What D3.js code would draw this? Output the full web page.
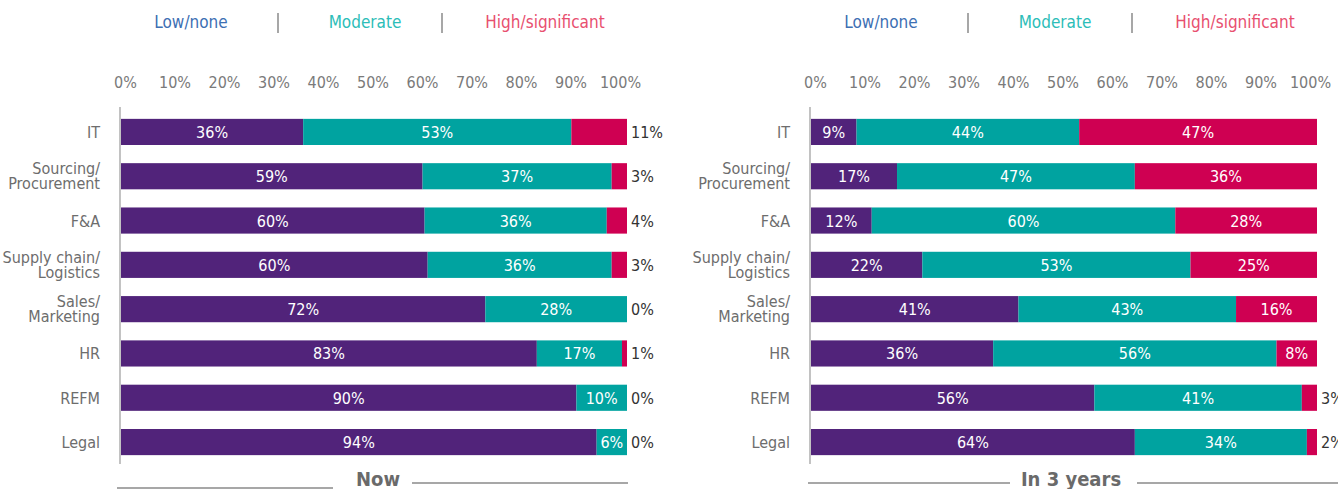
<!DOCTYPE html>
<html>
<head>
<meta charset="utf-8">
<script src="https://cdn.jsdelivr.net/npm/d3@7"></script>
<style>
  body { margin: 0; background: #fff; }
  text { font-family: "Liberation Sans Narrow", "DejaVu Sans Condensed", "Roboto", sans-serif; }
</style>
</head>
<body>
<div id="chart"></div>
<script>
var categories = ["IT", "Sourcing/|Procurement", "F&A", "Supply chain/|Logistics",
                  "Sales/|Marketing", "HR", "REFM", "Legal"];
var legendLabels = ["Low/none", "Moderate", "High/significant"];
var tickValues = [0, 10, 20, 30, 40, 50, 60, 70, 80, 90, 100];

var nowLow      = [36, 59, 60, 60, 72, 83, 90, 94];
var nowModerate = [53, 37, 36, 36, 28, 17, 10, 6];
var nowHigh     = [11, 3, 4, 3, 0, 1, 0, 0];

var laterLow      = [9, 17, 12, 22, 41, 36, 56, 64];
var laterModerate = [44, 47, 60, 53, 43, 56, 41, 34];
var laterHigh     = [47, 36, 28, 25, 16, 8, 3, 2];

var barColors = ["#51237a", "#00a3a0", "#cf0052"];
var legendColors = ["#3d6fb3", "#2cbdb8", "#e8506f"];

var width = 1338, height = 489;

var svg = d3.select("#chart")
  .append("svg")
    .attr("width", width)
    .attr("height", height);

// panels: the "high" label goes outside the bar when below outsideBelow
var panels = [
  {title: "Now", x0: 120, low: nowLow, mod: nowModerate, high: nowHigh, outsideBelow: 101,
   lineL: [-3, 213, 368], lineR: [292, 508, 363], titleX: 258},
  {title: "In 3 years", x0: 810, low: laterLow, mod: laterModerate, high: laterHigh, outsideBelow: 5,
   lineL: [-2, 200, 363], lineR: [327, 528, 363], titleX: 261}
];

var x = d3.scaleLinear().domain([0, 100]).range([1, 507]);
var xTick = d3.scaleLinear().domain([0, 100]).range([5, 500]);
var y = d3.scaleBand()
    .domain(d3.range(categories.length))
    .range([110, 464])
    .paddingInner(0.41)
    .paddingOuter(0.2);

panels.forEach(function(p) {
  var g = svg.append("g")
    .attr("transform", "translate(" + p.x0 + ",0)");

  // legend
  var legendX = [71, 245, 425];
  legendLabels.forEach(function(l, i) {
    g.append("text")
      .attr("x", legendX[i])
      .attr("y", 28)
      .attr("text-anchor", "middle")
      .style("font-size", "17px")
      .style("fill", legendColors[i])
      .text(l);
  });
  [158, 322].forEach(function(sx) {
    g.append("line")
      .attr("x1", sx).attr("x2", sx)
      .attr("y1", 13).attr("y2", 33)
      .attr("stroke", "#8a8a8a")
      .attr("stroke-width", 1.5);
  });

  // tick labels on top
  var axis = g.append("g")
    .attr("transform", "translate(0,88)")
    .call(d3.axisTop(xTick).tickValues(tickValues).tickSize(0).tickPadding(0)
          .tickFormat(function(d) { return d + "%"; }));
  axis.select(".domain").remove();
  axis.selectAll("text")
    .style("font-size", "16px")
    .style("fill", "#7a7a7a");

  // vertical axis line
  g.append("line")
    .attr("x1", 0).attr("x2", 0)
    .attr("y1", 107).attr("y2", 464)
    .attr("stroke", "#9a9a9a")
    .attr("stroke-width", 1.2);

  // category labels
  categories.forEach(function(c, i) {
    var lines = c.split("|");
    var cy = y(i) + y.bandwidth() / 2;
    var t = g.append("text")
      .attr("text-anchor", "end")
      .style("font-size", "16px")
      .style("fill", "#6d6d6d");
    lines.forEach(function(l, k) {
      t.append("tspan")
        .attr("x", -20)
        .attr("y", lines.length == 1 ? cy + 6 : cy - 2 + k * 15)
        .text(l);
    });
  });

  // stacked bars
  var rows = categories.map(function(c, i) {
    var vals = [p.low[i], p.mod[i], p.high[i]];
    var total = d3.sum(vals);
    var start = 0;
    return vals.map(function(v, k) {
      var s = {row: i, k: k, v: v, a: start / total * 100, b: (start + v) / total * 100};
      start += v;
      return s;
    });
  });
  var segs = [].concat.apply([], rows);

  g.append("g")
    .selectAll("rect")
    .data(segs.filter(function(d) { return d.v > 0; }))
    .enter()
    .append("rect")
      .attr("x", function(d) { return x(d.a); })
      .attr("width", function(d) { return x(d.b) - x(d.a); })
      .attr("y", function(d) { return y(d.row); })
      .attr("height", y.bandwidth())
      .style("fill", function(d) { return barColors[d.k]; });

  g.append("g")
    .selectAll("text")
    .data(segs)
    .enter()
    .append("text")
      .attr("x", function(d) {
        if (d.k == 2 && d.v < p.outsideBelow) return x(100) + 4;
        return (x(d.a) + x(d.b)) / 2;
      })
      .attr("y", function(d) { return y(d.row) + y.bandwidth() / 2 + 6; })
      .attr("text-anchor", function(d) { return (d.k == 2 && d.v < p.outsideBelow) ? "start" : "middle"; })
      .style("font-size", "16px")
      .style("fill", function(d) { return (d.k == 2 && d.v < p.outsideBelow) ? "#333" : "#fff"; })
      .text(function(d) { return d.v + "%"; });

  // bottom title with rules
  g.append("text")
    .attr("x", p.titleX)
    .attr("y", 486)
    .attr("text-anchor", "middle")
    .style("font-size", "20px")
    .style("font-weight", "bold")
    .style("fill", "#6a6a6a")
    .text(p.title);
  g.append("line")
    .attr("x1", p.lineL[0]).attr("x2", p.lineL[1])
    .attr("y1", p.title == "Now" ? 488 : 483).attr("y2", p.title == "Now" ? 488 : 483)
    .attr("stroke", "#8a8a8a").attr("stroke-width", 1.5);
  g.append("line")
    .attr("x1", p.lineR[0]).attr("x2", p.lineR[1])
    .attr("y1", 483).attr("y2", 483)
    .attr("stroke", "#8a8a8a").attr("stroke-width", 1.5);
});
</script>
</body>
</html>
